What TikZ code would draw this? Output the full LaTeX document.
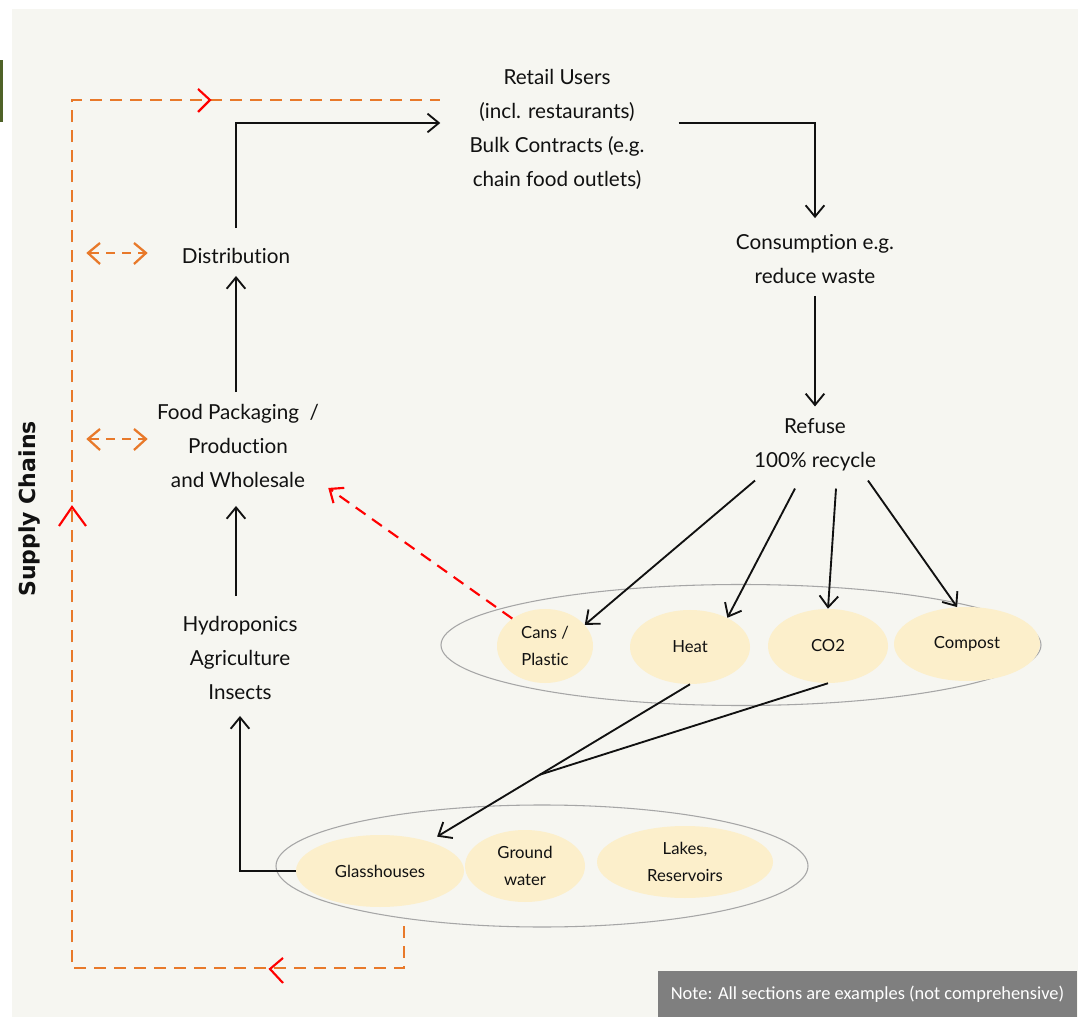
\documentclass[tikz,border=0pt]{standalone}
\usepackage{fontspec}
\setmainfont{Lato}[Ligatures=NoCommon]
\newfontfamily\notefont{Carlito}
\newfontfamily\scfont{DejaVu Sans}
\usetikzlibrary{arrows.meta,calc,shapes.geometric}
\definecolor{bgc}{HTML}{F6F6F1}
\definecolor{olivebar}{HTML}{4F6228}
\definecolor{orng}{HTML}{E8792A}
\definecolor{cream}{HTML}{FCEFCB}
\definecolor{notegray}{HTML}{7F7F7F}
\definecolor{txtc}{HTML}{111111}
\tikzset{
  txt/.style={align=center, font=\fontsize{15.5}{25.5}\selectfont, text=txtc, inner sep=9pt},
  arr/.style={-{Straight Barb[length=8.5pt,width=14pt]}, line width=1.4pt, txtc},
  outerell/.style={ellipse, draw=gray!70, line width=0.8pt, inner sep=0pt},
  innerell/.style={ellipse, fill=cream, inner sep=0pt, align=center, font=\fontsize{12.5}{20}\selectfont, text=txtc},
  odash/.style={orng, line width=1.7pt, dash pattern=on 9pt off 6pt},
  redchev/.style={red, line width=1.6pt},
  ochev/.style={orng, line width=1.7pt},
  reddash/.style={-{Straight Barb[length=8.5pt,width=14pt]}, red, line width=1.6pt, dash pattern=on 9pt off 6pt},
}
\begin{document}
\begin{tikzpicture}[x=0.75pt,y=-0.75pt]
\useasboundingbox (0,0) rectangle (1082,1019);
\fill[white] (0,0) rectangle (1082,1019);
\fill[bgc] (12,9) rectangle (1078,1017);
\fill[olivebar] (0,60) rectangle (3,122);

% text nodes
\node[txt] (retail) at (557,129) {Retail Users\\(incl. restaurants)\\Bulk Contracts (e.g.\\chain food outlets)};
\node[txt] (cons) at (815,259) {Consumption e.g.\\reduce waste};
\node[txt] (refuse) at (815,445) {Refuse\\100\% recycle};
\node[txt] (dist) at (236,256) {Distribution};
\node[txt] (food) at (238,446) {Food Packaging\ \ /\\Production\\and Wholesale};
\node[txt] (hydro) at (240,658) {Hydroponics\\Agriculture\\Insects};

% top ellipse group
\node[outerell, minimum width=450pt, minimum height=90.75pt] (topell) at (741,645) {};
\node[innerell, minimum width=72pt, minimum height=55.5pt] (cans) at (545,646) {Cans /\\Plastic};
\node[innerell, minimum width=90pt, minimum height=55.5pt] (heat) at (690,647) {Heat};
\node[innerell, minimum width=90pt, minimum height=55.5pt] (co2) at (828,646) {CO2};
\node[innerell, minimum width=109.5pt, minimum height=55.5pt] (compost) at (967,644) {Compost};

% bottom ellipse group
\node[outerell, minimum width=399pt, minimum height=91.5pt] (botell) at (542,866) {};
\node[innerell, minimum width=126pt, minimum height=54pt] (glass) at (380,871) {Glasshouses};
\node[innerell, minimum width=90pt, minimum height=54pt] (ground) at (525,866) {Ground\\water};
\node[innerell, minimum width=132pt, minimum height=54pt] (lakes) at (685,862) {Lakes,\\Reservoirs};

% note box
\node[fill=notegray, text=white, font=\notefont\fontsize{13.8}{15}\selectfont, minimum width=314.25pt, minimum height=34.5pt, inner sep=0pt] (note) at (867.5,994) {Note: All sections are examples (not comprehensive)};

% supply chains label
\node[rotate=90, font=\scfont\bfseries\fontsize{16.5}{18}\selectfont, text=txtc] (sc) at (30,509) {Supply Chains};

% black connectors
\draw[arr] ($(dist.north)+(0,-8)$) |- ($(retail.west)+(-17,-6)$);
\draw[arr] ($(retail.east)+(22,-6)$) -| ($(cons.north)+(0,-4)$);
\draw[arr] (cons.south) -- (refuse.north);
\draw[arr] ($(food.north)+(-2,0)$) -- ($(dist.south)$);
\draw[arr] ($(hydro.north)+(-4,-8)$) -- ($(food.south)+(-2,6)$);
\draw[arr] (glass.west) -| ($(hydro.south)+(0,4)$);

\draw[arr] ($(refuse.south)+(-60,-3)$) -- (cans.28);
\draw[arr] ($(refuse.south)+(-20,5)$) -- (heat.38);
\draw[arr] ($(refuse.south)+(21,5)$) -- (co2.north);
\draw[arr] ($(refuse.south)+(53,-3)$) -- (compost.105);

\coordinate (jn) at ($(heat.south)!0.484!(glass.center)$);
\draw[arr, shorten >=50pt] (heat.south) -- (glass.center);
\draw[line width=1.4pt, txtc] (co2.south) -- (jn);

% red dashed feedback
\draw[reddash] (cans.140) -- ($(food.south east)+(-3,-12)$);

% orange supply chain loop
\coordinate (lpA) at (404,926);
\coordinate (lpB) at (404,968);
\coordinate (lpC) at (72,968);
\coordinate (lpD) at (72,100);
\coordinate (lpE) at (440,100);
\draw[odash] (lpA) -- (lpB) -- (lpC) -- (lpD) -- (lpE);

% red chevrons on loop
\draw[redchev] (198,89) -- (210,100) -- (198,112);
\draw[redchev] (283,958) -- (270,969) -- (283,983);
\draw[redchev] (59,526) -- (72,507) -- (86,526);

% orange double arrows
\draw[ochev] (100,243) -- (88,253) -- (100,264);
\draw[ochev] (134,243) -- (146,253) -- (134,264);
\draw[odash, dash pattern=on 7pt off 5pt] (90,253) -- (144,253);
\draw[ochev] (100,429) -- (88,439) -- (100,450);
\draw[ochev] (134,429) -- (146,439) -- (134,450);
\draw[odash, dash pattern=on 7pt off 5pt] (90,439) -- (144,439);
\end{tikzpicture}
\end{document}
